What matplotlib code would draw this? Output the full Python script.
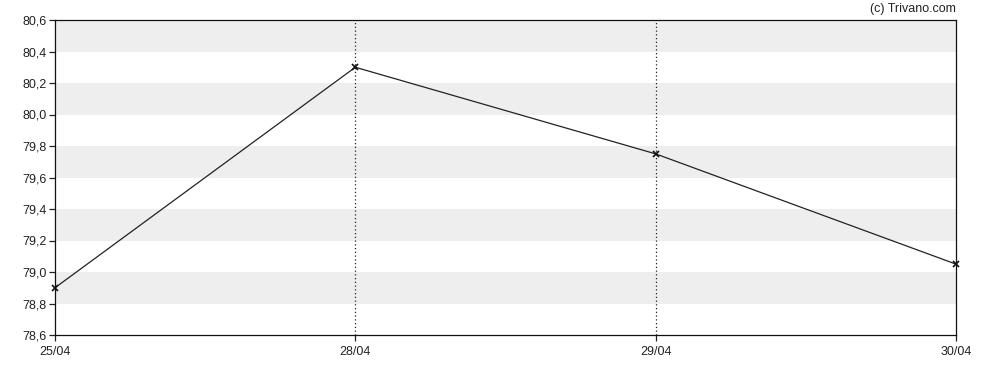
import matplotlib
matplotlib.use("Agg")
import matplotlib.pyplot as plt
import numpy as np

dates = ["25/04", "28/04", "29/04", "30/04"]
values = [78.9, 80.3, 79.75, 79.05]
yticks = [78.6, 78.8, 79.0, 79.2, 79.4, 79.6, 79.8, 80.0, 80.2, 80.4, 80.6]
ytick_labels = ["78,6", "78,8", "79,0", "79,2", "79,4", "79,6", "79,8", "80,0", "80,2", "80,4", "80,6"]

plt.rcParams['font.family'] = ['Liberation Sans', 'DejaVu Sans']

fig = plt.figure(figsize=(9.88, 3.70), dpi=100)
ax = fig.add_axes([55/988, 35/370, (956-55)/988, (335-20)/370])

x = np.arange(len(dates))
ax.set_xlim(0, len(dates) - 1)
ax.set_ylim(78.6, 80.6)

# alternating bands
for i in range(len(yticks) - 1):
    if i % 2 == 1:
        ax.axhspan(yticks[i], yticks[i + 1], color='#eeeeee', lw=0, zorder=0)

for xi in x[1:-1]:
    ax.axvline(xi, color='#222222', lw=0.9, ls=(0, (1, 2)), zorder=1)

ax.plot(x, values, color='#222222', lw=0.9, marker='x', ms=4, mew=1.2, mec='#111111',
        zorder=3, clip_on=False)

ax.set_xticks(x)
ax.set_xticklabels(dates)
ax.set_yticks(yticks)
ax.set_yticklabels(ytick_labels)
ax.tick_params(axis='both', labelsize=9, colors='#222222', length=4, width=0.9, direction='out', pad=2)
ax.tick_params(axis='x', pad=4)
for s in ax.spines.values():
    s.set_color('#111111')
    s.set_linewidth(0.9)

fig.text(956/988, 1 - 9/370, "(c) Trivano.com", ha='right', va='center', fontsize=9, color='#222222')

fig.savefig("out.png", dpi=100)
